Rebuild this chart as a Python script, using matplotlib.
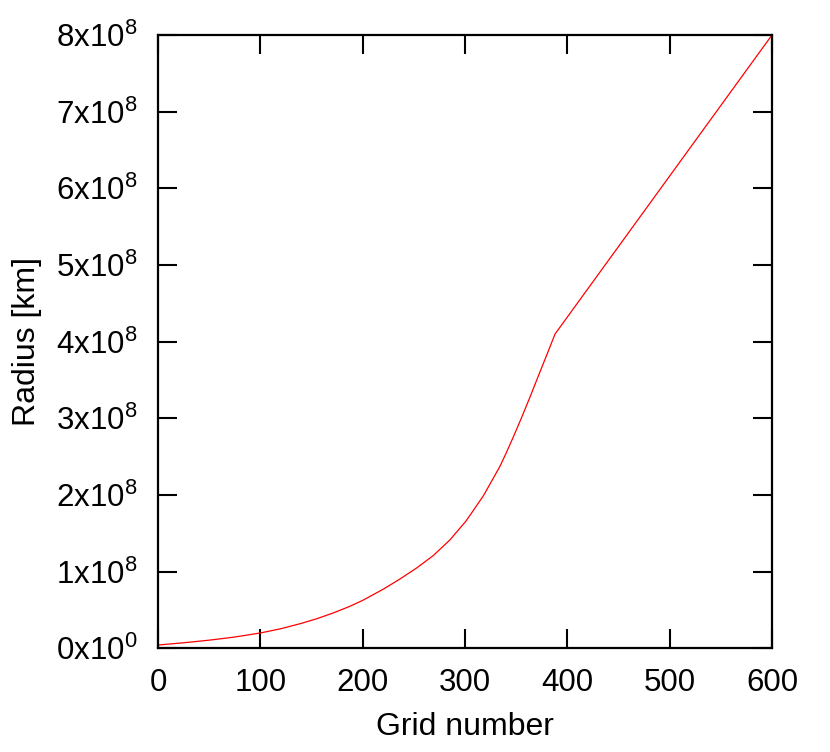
import numpy as np
import matplotlib
matplotlib.use("Agg")
import matplotlib.pyplot as plt
import matplotlib.ticker as ticker

# values
grid_number = [0, 25, 50, 75, 100, 120, 140, 155, 171, 187, 200, 220, 236, 253,
               269, 285, 301, 318, 334, 340, 347, 355, 363, 371, 380, 388, 600]
radius_km = [4.3e6, 7.2e6, 1.06e7, 1.47e7, 2.0e7, 2.55e7, 3.25e7, 3.85e7, 4.6e7,
             5.45e7, 6.25e7, 7.7e7, 9.0e7, 1.05e8, 1.21e8, 1.41e8, 1.66e8,
             1.99e8, 2.37e8, 2.54e8, 2.75e8, 3.0e8, 3.26e8, 3.53e8, 3.83e8,
             4.10e8, 8.0e8]

x_ticks = [0, 100, 200, 300, 400, 500, 600]
y_ticks = [0, 1e8, 2e8, 3e8, 4e8, 5e8, 6e8, 7e8, 8e8]

plt.rcParams['font.family'] = ['Liberation Sans', 'DejaVu Sans']
plt.rcParams['mathtext.fontset'] = 'custom'
plt.rcParams['mathtext.rm'] = 'Liberation Sans'
plt.rcParams['mathtext.it'] = 'Liberation Sans:italic'
plt.rcParams['mathtext.bf'] = 'Liberation Sans:bold'

W, H = 830, 752
fig = plt.figure(figsize=(W / 100, H / 100), dpi=100)
ax = fig.add_axes([158 / W, (H - 648.3) / H, 614 / W, 613.3 / H])

ax.plot(grid_number, radius_km, color='red', linewidth=0.9)

ax.set_xlim(0, 600)
ax.set_ylim(0, 8e8)
ax.set_xticks(x_ticks)
ax.set_yticks(y_ticks)


def sci_label(v, pos):
    if v == 0:
        return r'$\mathregular{0x10^{0}}$'
    e = int(np.floor(np.log10(v)))
    m = int(round(v / 10 ** e))
    return r'$\mathregular{%dx10^{%d}}$' % (m, e)


ax.yaxis.set_major_formatter(ticker.FuncFormatter(sci_label))

ax.tick_params(direction='in', length=14, width=1.5, top=True, right=True,
               labelsize=22.5)
ax.tick_params(axis='x', pad=14)
ax.tick_params(axis='y', pad=15)
for s in ax.spines.values():
    s.set_linewidth(1.6)

ax.set_xlabel('Grid number', fontsize=23, labelpad=10)
ax.set_ylabel('Radius [km]', fontsize=23, labelpad=10)

fig.savefig('out.png', dpi=100)
